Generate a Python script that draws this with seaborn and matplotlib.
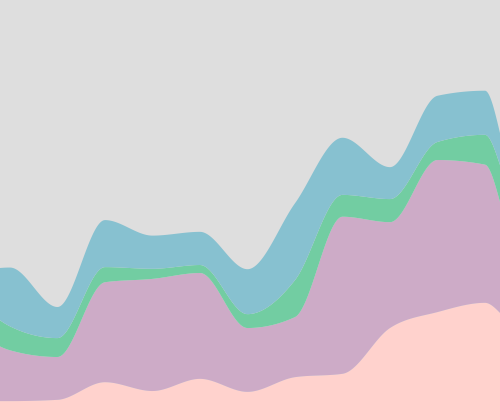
import matplotlib
import matplotlib.pyplot as plt
import numpy as np
import seaborn as sns

matplotlib.use("Agg")
sns.set_theme(style="white")

# knot positions (the first one sits just off the left edge, the last one on the right edge)
x_pos = [-1, 0, 1, 2, 3, 4, 5, 6, 7, 8, 9, 10, 10.316]

# stacked series, bottom to top
pink = [4.5, 4.5, 4.8, 9.0, 6.9, 9.8, 6.7, 10.2, 11.0, 21.9, 25.7, 27.9, 25.5]
purple = [19.3, 12.1, 10.2, 23.8, 26.7, 25.2, 15.2, 14.3, 37.4, 25.2, 36.2, 32.9, 26.4]
green = [8.3, 5.7, 4.5, 3.6, 2.4, 1.9, 3.3, 8.8, 5.2, 5.5, 4.3, 7.1, 8.8]
blue = [2.4, 14.0, 7.4, 11.2, 7.9, 7.9, 10.7, 18.3, 13.6, 7.6, 11.0, 10.5, 7.6]

series_names = ["pink", "purple", "green", "blue"]
palette = sns.color_palette(["#ffd2cd", "#cdabc7", "#72cda2", "#87c1d0"])
background = "#dedede"


def monotone_curve(x, y, samples=40):
    """Monotone cubic (d3 monotoneX style) through the knots."""
    x = np.asarray(x, dtype=float)
    y = np.asarray(y, dtype=float)
    h = np.diff(x)
    s = np.diff(y) / h
    m = np.zeros_like(y)

    def sign(v):
        return -1.0 if v < 0 else 1.0

    for i in range(1, len(x) - 1):
        h0, h1 = h[i - 1], h[i]
        s0, s1 = s[i - 1], s[i]
        p = (s0 * h1 + s1 * h0) / (h0 + h1)
        m[i] = (sign(s0) + sign(s1)) * min(abs(s0), abs(s1), 0.5 * abs(p))
    m[0] = (3 * s[0] - m[1]) / 2
    m[-1] = (3 * s[-1] - m[-2]) / 2

    xs, ys = [], []
    for i in range(len(x) - 1):
        t = np.linspace(0, 1, samples, endpoint=False)
        h00 = 2 * t**3 - 3 * t**2 + 1
        h10 = t**3 - 2 * t**2 + t
        h01 = -2 * t**3 + 3 * t**2
        h11 = t**3 - t**2
        xs.append(x[i] + t * h[i])
        ys.append(h00 * y[i] + h10 * h[i] * m[i] + h01 * y[i + 1] + h11 * h[i] * m[i + 1])
    xs.append([x[-1]])
    ys.append([y[-1]])
    return np.concatenate(xs), np.concatenate(ys)


layers = [pink, purple, green, blue]
tops = np.cumsum(np.array(layers), axis=0)

fig = plt.figure(figsize=(5, 4.2), dpi=100, facecolor=background)
ax = fig.add_axes([0, 0, 1, 1])
ax.set_facecolor(background)

lower = None
for top, color, name in zip(tops, palette, series_names):
    cx, cy = monotone_curve(x_pos, top)
    if lower is None:
        base = np.zeros_like(cy)
    else:
        base = lower
    ax.fill_between(cx, base, cy, color=color, linewidth=0, label=name)
    lower = cy

ax.set_xlim(-0.2105, 10.316)
ax.set_ylim(0, 100)
ax.axis("off")

fig.savefig("out.png", dpi=100, facecolor=background)
plt.close(fig)
